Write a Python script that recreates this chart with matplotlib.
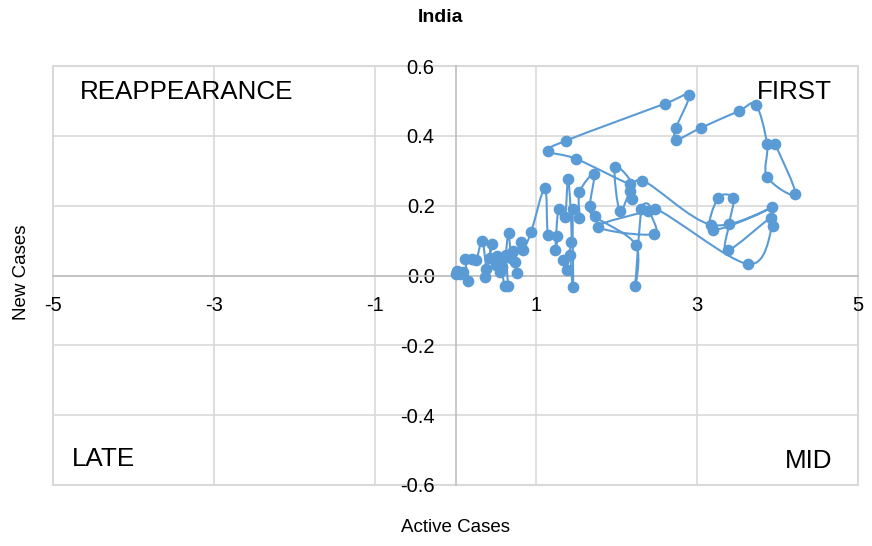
import numpy as np
import matplotlib.pyplot as plt
from matplotlib.path import Path
from matplotlib.patches import PathPatch

plt.rcParams['font.family'] = ['Liberation Sans', 'DejaVu Sans']

# active cases (x) and new cases (y), in the order the line joins them
active = [3.97, 4.22, 3.87, 3.87, 3.73, 3.52, 3.05, 2.74, 2.74, 2.90, 2.60, 1.37, 1.15, 1.50,
          2.17, 1.98, 2.04, 2.17, 2.19, 2.32,
          3.18, 3.93, 3.20, 3.26, 3.45, 3.40, 3.38, 3.92, 3.94, 3.63,
          2.48, 2.47, 1.77, 2.39, 2.31, 2.23, 2.24, 1.73, 1.67, 1.72, 1.54, 1.54, 1.46, 1.46,
          1.42, 1.38, 1.34, 1.44, 1.40, 1.36, 1.28, 1.24, 1.26, 1.15, 1.11, 0.94,
          0.84, 0.81, 0.74, 0.76, 0.72, 0.69, 0.66, 0.63, 0.65, 0.61, 0.56, 0.58, 0.52, 0.55,
          0.50, 0.43, 0.45, 0.37, 0.38, 0.33, 0.26, 0.20, 0.12, 0.16, 0.09, 0.05, 0.02, 0.00]
new = [0.377, 0.234, 0.283, 0.377, 0.489, 0.471, 0.423, 0.389, 0.423, 0.517, 0.492, 0.386, 0.356, 0.334,
       0.262, 0.312, 0.185, 0.243, 0.219, 0.272,
       0.145, 0.195, 0.131, 0.222, 0.222, 0.148, 0.072, 0.166, 0.143, 0.033,
       0.191, 0.119, 0.140, 0.186, 0.190, -0.031, 0.088, 0.169, 0.200, 0.290, 0.238, 0.164, 0.190, -0.033,
       0.059, 0.016, 0.045, 0.097, 0.277, 0.167, 0.190, 0.074, 0.112, 0.115, 0.250, 0.125,
       0.074, 0.097, 0.040, 0.007, 0.070, 0.050, 0.121, 0.060, -0.031, -0.031, 0.045, 0.025, 0.055, 0.010,
       0.030, 0.050, 0.091, -0.003, 0.020, 0.100, 0.045, 0.047, 0.048, -0.015, 0.010, 0.004, 0.012, 0.005]

xticks = [-5, -3, -1, 1, 3, 5]
yticks = [-0.6, -0.4, -0.2, 0.0, 0.2, 0.4, 0.6]
quadrants = ['REAPPEARANCE', 'FIRST', 'LATE', 'MID']

blue = '#5B9BD5'
grid = '#D9D9D9'

W, H = 872, 546
fig = plt.figure(figsize=(W / 100, H / 100), dpi=100)
ax = fig.add_axes([53 / W, 1 - 485 / H, (858 - 53) / W, (485 - 66) / H])

# smoothed connecting line (bezier through the points, like excel)
pts = np.column_stack([active, new])
verts = [pts[0]]
codes = [Path.MOVETO]
n = len(pts)
for i in range(n - 1):
    p0 = pts[max(i - 1, 0)]
    p1 = pts[i]
    p2 = pts[i + 1]
    p3 = pts[min(i + 2, n - 1)]
    c1 = p1 + (p2 - p0) / 6
    c2 = p2 - (p3 - p1) / 6
    verts += [c1, c2, p2]
    codes += [Path.CURVE4] * 3
ax.add_patch(PathPatch(Path(verts, codes), facecolor='none', edgecolor=blue, lw=1.5, zorder=3))
ax.plot(active, new, 'o', color=blue, ms=7.4, zorder=4)

ax.set_xlim(-5, 5)
ax.set_ylim(-0.6, 0.6)
ax.set_xticks(xticks)
ax.set_yticks(yticks)
ax.set_xticklabels([str(t) for t in xticks])
ax.set_yticklabels(['%.1f' % t for t in yticks])
ax.grid(True, color=grid, lw=1.2)
ax.set_axisbelow(True)

for s in ['top', 'right']:
    ax.spines[s].set_visible(False)
ax.spines['left'].set_position('zero')
ax.spines['bottom'].set_position('zero')
ax.spines['left'].set_color('#BFBFBF')
ax.spines['bottom'].set_color('#BFBFBF')
ax.spines['left'].set_linewidth(1.2)
ax.spines['bottom'].set_linewidth(1.2)
ax.patch.set_edgecolor(grid)
ax.patch.set_linewidth(1.5)
ax.tick_params(length=0, labelsize=14.5, colors='black')
ax.tick_params(axis='x', pad=15)
ax.tick_params(axis='y', pad=15)

fig.text(440 / W, 1 - 18 / H, 'India', ha='center', va='center', fontsize=14, fontweight='bold')
fig.text(22 / W, 1 - 272 / H, 'New Cases', ha='center', va='center', rotation=90, fontsize=13.5)
fig.text(455 / W, 1 - 528 / H, 'Active Cases', ha='center', va='center', fontsize=13.5)

fig.text(80 / W, 1 - 92 / H, quadrants[0], ha='left', va='center', fontsize=18.7)
fig.text(832 / W, 1 - 92 / H, quadrants[1], ha='right', va='center', fontsize=18.7)
fig.text(72 / W, 1 - 459 / H, quadrants[2], ha='left', va='center', fontsize=18.7)
fig.text(832 / W, 1 - 461 / H, quadrants[3], ha='right', va='center', fontsize=18.7)

fig.savefig('out.png', dpi=100)
